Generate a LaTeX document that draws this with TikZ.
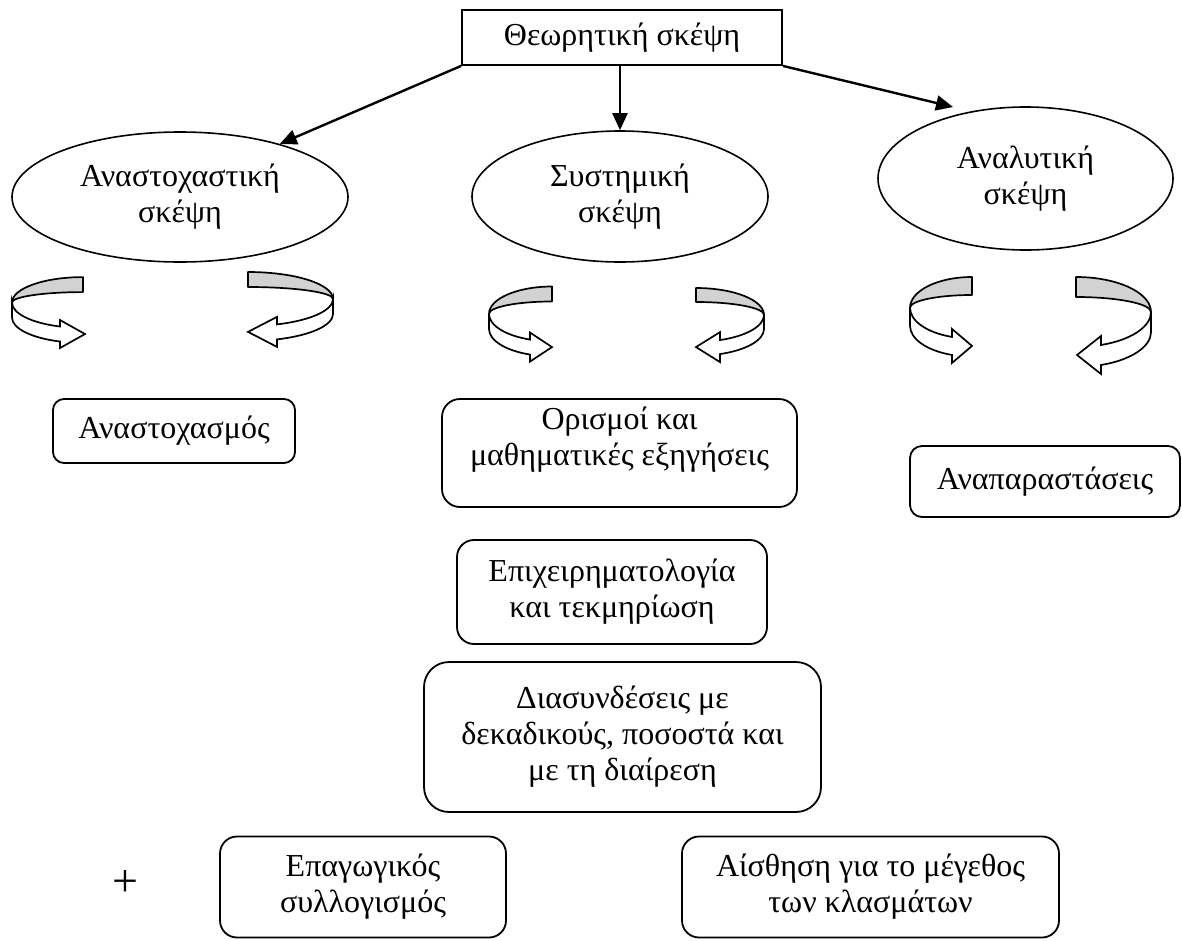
\documentclass[tikz,border=0pt]{standalone}
\usepackage{fontspec}
\setmainfont{Liberation Serif}
\usetikzlibrary{shapes.geometric,arrows.meta,calc}

% Ribbon-like curled arrow.
% #1,#2 centre of the curl   #3,#4 x/y radius   #5 band height
% #6 half width of the head  #7 head length     #8 head base offset from centre
% #9 1 = curls round the left and points right, -1 = mirrored
\newcommand{\curlarrow}[9]{%
  \begin{scope}[shift={(#1,#2)}, xscale=#9]
    \pgfmathsetmacro{\cbAng}{acos(-#8/#3)}
    \pgfmathsetmacro{\cbX}{#3*cos(\cbAng)}
    \pgfmathsetmacro{\cbY}{#4*sin(\cbAng)}
    \pgfmathsetmacro{\cbH}{#5/2}
    \pgfmathsetmacro{\cbInner}{#4-#5}
    % back part of the ribbon (inner face, shaded)
    \filldraw[band back] (0,{-#4-\cbH})
      arc[start angle=270, end angle=180, x radius=#3, y radius=#4]
      arc[start angle=180, end angle=270, x radius=#3, y radius=\cbInner] -- cycle;
    % front part of the ribbon with its block head
    \filldraw[band front] (-#3,-\cbH)
      arc[start angle=180, end angle=\cbAng, x radius=#3, y radius=#4]
      -- (\cbX,{\cbY-#6}) -- ({\cbX+#7},\cbY) -- (\cbX,{\cbY+#6})
      -- (\cbX,{\cbY+\cbH})
      arc[start angle=\cbAng, end angle=180, x radius=#3, y radius=#4] -- cycle;
  \end{scope}}

\tikzset{
  lbl/.style={font=\fontsize{32}{36}\selectfont, align=center},
  topbox/.style={draw, rectangle, line width=1.8pt, inner sep=0pt,
    minimum width=320pt, minimum height=55pt, lbl},
  oval/.style={draw, ellipse, line width=1.6pt, inner sep=0pt, lbl},
  rbox/.style={draw, rectangle, line width=1.8pt, inner sep=0pt,
    rounded corners=#1, lbl},
  link/.style={line width=2.4pt, -{Triangle[length=17pt,width=15pt]}},
  band back/.style={fill=gray!35, draw=black, line width=1.7pt, line join=round},
  band front/.style={fill=white, draw=black, line width=1.7pt, line join=miter},
}

\begin{document}
\begin{tikzpicture}[x=1pt, y=-1pt]
  \useasboundingbox (0,0) rectangle (1182,940);

  % root and the three kinds of thinking
  \node[topbox] (top) at (622,37.5) {Θεωρητική σκέψη};
  \node[oval, minimum width=336pt, minimum height=130pt] (refl) at (180,197)
    {Αναστοχαστική\\σκέψη};
  \node[oval, minimum width=296pt, minimum height=131pt] (syst) at (620,196.5)
    {Συστημική\\σκέψη};
  \node[oval, minimum width=295pt, minimum height=143pt] (anal) at (1025.5,178.5)
    {Αναλυτική\\σκέψη};

  \coordinate (analtip) at (953,107);
  \draw[link] (top.south west) -- (refl.28);
  \draw[link] (syst.north |- top.south) -- (syst.north);
  \draw[link] (top.south east) -- (analtip);

  % curled arrows under each ellipse
  \curlarrow{83}{310}{71}{25.4}{15}{14}{25}{23}{1}
  \curlarrow{248}{306.5}{85}{27}{15}{15}{29}{29}{-1}
  \curlarrow{552}{321.4}{63}{27.4}{15}{14.5}{22}{22}{1}
  \curlarrow{696}{321.9}{68}{26.9}{14}{15}{24}{24}{-1}
  \curlarrow{972}{316.8}{62}{30.8}{18}{17}{20}{20}{1}
  \curlarrow{1076}{322}{75}{35}{20}{19}{24}{25}{-1}

  % outcomes
  \node[rbox=11pt, minimum width=242pt, minimum height=64pt] (reflbox) at (174,431)
    {Αναστοχασμός};
  \node[rbox=18pt, minimum width=355pt, minimum height=108pt] (defs) at (619.5,453) {};
  \node[lbl] (defstext) at ($(defs.center)+(0,-13)$)
    {Ορισμοί και\\μαθηματικές εξηγήσεις};
  \node[rbox=12pt, minimum width=270pt, minimum height=71pt] (repr) at (1045,481.5)
    {Αναπαραστάσεις};
  \node[rbox=17pt, minimum width=310pt, minimum height=104pt] (argu) at (612,592)
    {Επιχειρηματολογία\\και τεκμηρίωση};
  \node[rbox=25pt, minimum width=397pt, minimum height=150pt] (conn) at (622.5,737)
    {Διασυνδέσεις με\\δεκαδικούς, ποσοστά και\\με τη διαίρεση};
  \node[rbox=17pt, minimum width=286pt, minimum height=101pt] (induct) at (363,887)
    {Επαγωγικός\\συλλογισμός};
  \node[rbox=17pt, minimum width=377pt, minimum height=101pt] (sense) at (870.5,887)
    {Αίσθηση για το μέγεθος\\των κλασμάτων};
  \node[font=\fontsize{46}{48}\selectfont] (plus) at (125,883) {+};
\end{tikzpicture}
\end{document}
